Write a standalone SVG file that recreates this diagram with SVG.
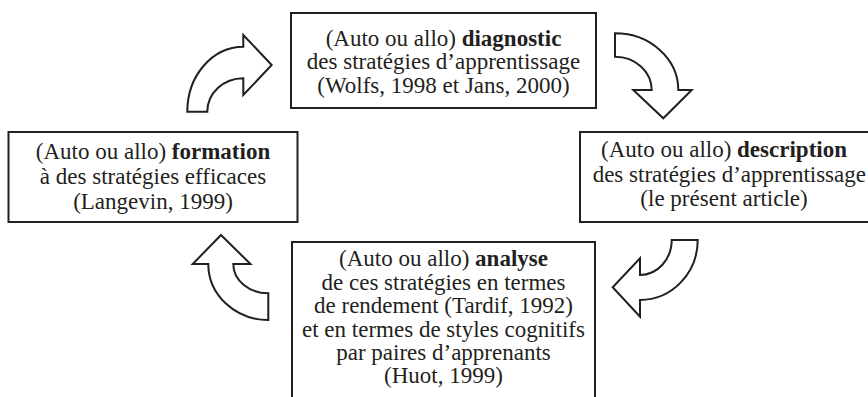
<svg xmlns="http://www.w3.org/2000/svg" width="868" height="397" viewBox="0 0 868 397">
<style>
  .box { fill: #ffffff; stroke: #231f20; stroke-width: 2; }
  .arrow { fill: #ffffff; stroke: #231f20; stroke-width: 2; stroke-linejoin: miter; }
  text { font-family: "Liberation Serif", "Times New Roman", serif; font-size: 23px; fill: #231f20; text-anchor: middle; }
  .b { font-weight: bold; }
</style>
<rect width="868" height="397" fill="#ffffff"/>
<g id="connectors">
  <path class="arrow" d="M187.3,111.7 L207.3,111.7 A36,33.4 0 0 1 243.3,78.3 L243.3,95 L271.7,65 L243.3,35 L243.3,46.7 A56,65 0 0 0 187.3,111.7 Z"/>
  <path class="arrow" d="M615,33.3 A63.3,56.7 0 0 1 678.3,90 L691.7,90 L663.3,118.3 L633.3,90 L651.7,90 A36.7,33.3 0 0 0 615,56.7 Z"/>
  <path class="arrow" d="M671.7,240 L697.7,240 A57.7,60 0 0 1 640,300 L640,316.7 L612.7,287.3 L640,258.3 L640,275 A31.7,35 0 0 0 671.7,240 Z"/>
  <path class="arrow" d="M221,235 L250.5,264 L233.3,264 A35,29.3 0 0 0 268.3,293.3 L268.3,320 A60,56 0 0 1 208.3,264 L192.7,264 Z"/>
</g>
<g id="node-diagnostic">
  <rect class="box" x="291" y="13" width="305" height="95"/>
  <text x="443.5" y="45.5">(Auto ou allo) <tspan class="b">diagnostic</tspan></text>
  <text x="443.5" y="69">des stratégies d’apprentissage</text>
  <text x="443.5" y="92.5">(Wolfs, 1998 et Jans, 2000)</text>
</g>
<g id="node-description">
  <rect class="box" x="580" y="132" width="300" height="90"/>
  <text x="724" y="157">(Auto ou allo) <tspan class="b">description</tspan></text>
  <text x="866" y="181.5" style="text-anchor:end">des stratégies d’apprentissage</text>
  <text x="724" y="206">(le présent article)</text>
</g>
<g id="node-analyse">
  <rect class="box" x="292" y="242" width="303" height="170"/>
  <text x="443.5" y="265.5">(Auto ou allo) <tspan class="b">analyse</tspan></text>
  <text x="443.5" y="289.5">de ces stratégies en termes</text>
  <text x="443.5" y="313">de rendement (Tardif, 1992)</text>
  <text x="443.5" y="336.5">et en termes de styles cognitifs</text>
  <text x="443.5" y="360">par paires d’apprenants</text>
  <text x="443.5" y="382.5">(Huot, 1999)</text>
</g>
<g id="node-formation">
  <rect class="box" x="8.5" y="132" width="289" height="90"/>
  <text x="153" y="158.5">(Auto ou allo) <tspan class="b">formation</tspan></text>
  <text x="153" y="183.5">à des stratégies efficaces</text>
  <text x="153" y="208.5">(Langevin, 1999)</text>
</g>
</svg>
